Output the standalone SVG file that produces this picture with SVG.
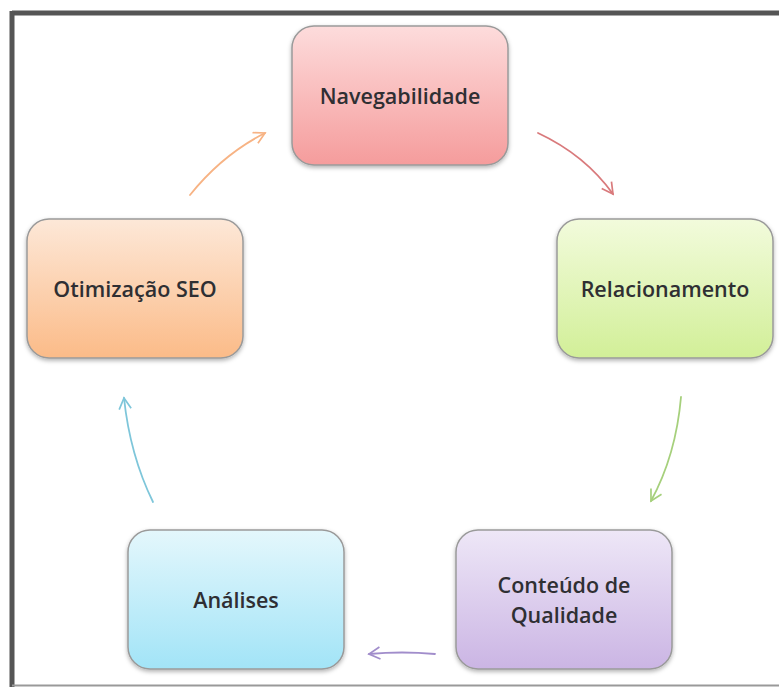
<svg xmlns="http://www.w3.org/2000/svg" width="779" height="687" viewBox="0 0 779 687">
<style>
.box{stroke:#9a9a9a;stroke-width:1.5;filter:url(#sh)}
.lbl{font-family:"Open Sans","Liberation Sans",sans-serif;font-size:21.5px;font-weight:600;fill:#2f2f33;text-anchor:middle}
.arr{fill:none;stroke-width:1.8;stroke-linecap:round}
</style>
<defs>
<filter id="sh" x="-10%" y="-10%" width="120%" height="125%">
<feDropShadow dx="0" dy="2" stdDeviation="2" flood-color="#000" flood-opacity="0.3"/>
</filter>
<linearGradient id="gR" x1="0" y1="0" x2="0" y2="1"><stop offset="0" stop-color="#fddcdc"/><stop offset="1" stop-color="#f59c9c"/></linearGradient>
<linearGradient id="gG" x1="0" y1="0" x2="0" y2="1"><stop offset="0" stop-color="#f2fbdc"/><stop offset="1" stop-color="#d2ef98"/></linearGradient>
<linearGradient id="gO" x1="0" y1="0" x2="0" y2="1"><stop offset="0" stop-color="#fde8d8"/><stop offset="1" stop-color="#fbbb88"/></linearGradient>
<linearGradient id="gB" x1="0" y1="0" x2="0" y2="1"><stop offset="0" stop-color="#e4f7fc"/><stop offset="1" stop-color="#a2e4f7"/></linearGradient>
<linearGradient id="gP" x1="0" y1="0" x2="0" y2="1"><stop offset="0" stop-color="#eee7f7"/><stop offset="1" stop-color="#cbb5e4"/></linearGradient>
<marker id="mR" viewBox="0 0 14 14" refX="12" refY="7" markerWidth="14" markerHeight="14" markerUnits="userSpaceOnUse" orient="auto"><path d="M1,1 L12,7 L1,13" fill="none" stroke="#d97a7c" stroke-width="1.7"/></marker>
<marker id="mG" viewBox="0 0 14 14" refX="12" refY="7" markerWidth="14" markerHeight="14" markerUnits="userSpaceOnUse" orient="auto"><path d="M1,1 L12,7 L1,13" fill="none" stroke="#a6d07c" stroke-width="1.7"/></marker>
<marker id="mP" viewBox="0 0 14 14" refX="12" refY="7" markerWidth="14" markerHeight="14" markerUnits="userSpaceOnUse" orient="auto"><path d="M1,1 L12,7 L1,13" fill="none" stroke="#a18dcb" stroke-width="1.7"/></marker>
<marker id="mB" viewBox="0 0 14 14" refX="12" refY="7" markerWidth="14" markerHeight="14" markerUnits="userSpaceOnUse" orient="auto"><path d="M1,1 L12,7 L1,13" fill="none" stroke="#7ec6da" stroke-width="1.7"/></marker>
<marker id="mO" viewBox="0 0 14 14" refX="12" refY="7" markerWidth="14" markerHeight="14" markerUnits="userSpaceOnUse" orient="auto"><path d="M1,1 L12,7 L1,13" fill="none" stroke="#f7b384" stroke-width="1.7"/></marker>
</defs>
<rect x="0" y="0" width="779" height="687" fill="#fff"/>
<g id="frame">
<line x1="12" y1="13" x2="779" y2="13" stroke="#555" stroke-width="5"/>
<line x1="12" y1="11" x2="12" y2="687" stroke="#555" stroke-width="5"/>
<line x1="12" y1="685.5" x2="779" y2="685.5" stroke="#999" stroke-width="2"/>
</g>
<g id="connectors">
<path class="arr" d="M538,133 Q585,155 613,194" stroke="#d97a7c" marker-end="url(#mR)"/>
<path class="arr" d="M681,397 Q676,455 651,501" stroke="#a6d07c" marker-end="url(#mG)"/>
<path class="arr" d="M435,654 Q402,651 369,654" stroke="#a18dcb" marker-end="url(#mP)"/>
<path class="arr" d="M153,502 Q130,455 124,398" stroke="#7ec6da" marker-end="url(#mB)"/>
<path class="arr" d="M190,195 Q222,155 265,133" stroke="#f7b384" marker-end="url(#mO)"/>
</g>
<g id="navegabilidade">
<rect class="box" x="292" y="26" width="216" height="139" rx="22" fill="url(#gR)"/>
<text class="lbl" x="400" y="104">Navegabilidade</text>
</g>
<g id="relacionamento">
<rect class="box" x="557" y="219" width="216" height="139" rx="22" fill="url(#gG)"/>
<text class="lbl" x="665" y="297">Relacionamento</text>
</g>
<g id="otimizacao">
<rect class="box" x="27" y="219" width="216" height="139" rx="22" fill="url(#gO)"/>
<text class="lbl" x="135" y="297">Otimização SEO</text>
</g>
<g id="analises">
<rect class="box" x="128" y="530" width="216" height="139" rx="22" fill="url(#gB)"/>
<text class="lbl" x="236" y="608">Análises</text>
</g>
<g id="conteudo">
<rect class="box" x="456" y="530" width="216" height="139" rx="22" fill="url(#gP)"/>
<text class="lbl" x="564" y="593">Conteúdo de</text>
<text class="lbl" x="564" y="623">Qualidade</text>
</g>
</svg>
